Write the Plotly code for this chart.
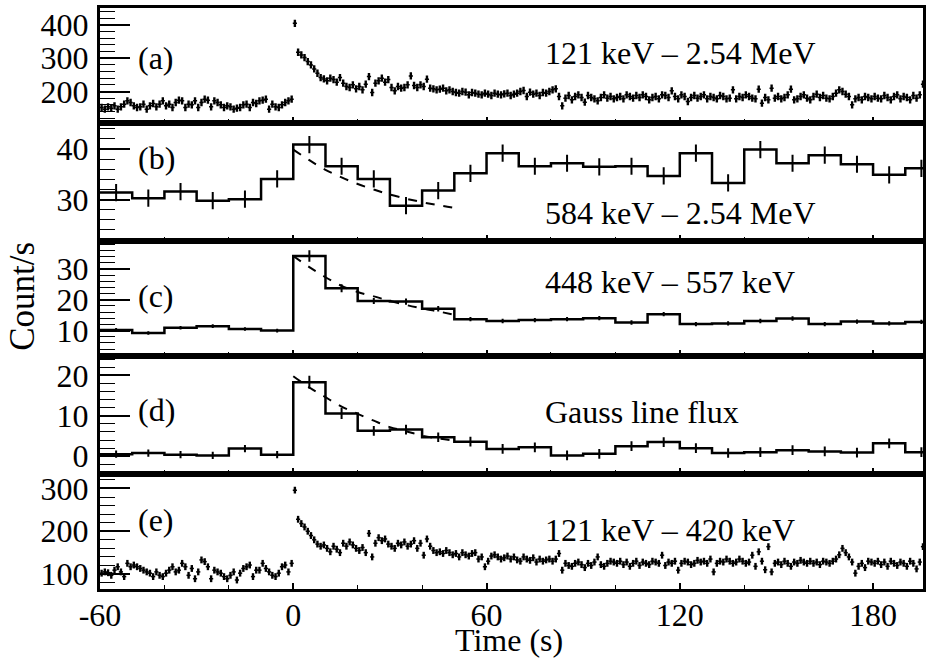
import numpy as np
import plotly.graph_objects as go
from plotly.subplots import make_subplots

# ---------------- data ----------------
# (a) 121 keV - 2.54 MeV, 1 s bins starting at t = -60
a_pre = [152, 147, 154, 150, 157, 147, 154, 162, 172, 167,
         157, 152, 154, 162, 147, 157, 164, 154, 162, 172,
         157, 162, 152, 167, 174, 172, 152, 162, 160, 172,
         152, 167, 177, 174, 154, 172, 167, 160, 152, 157,
         154, 147, 150, 152, 160, 162, 152, 167, 164, 172,
         174, 177, 147, 162, 154, 152, 160, 167, 172, 177]
a_post = [405, 318, 310, 302, 290, 280, 268, 255, 242, 238,
          232, 240, 236, 228, 242, 225, 215, 212, 220, 208,
          215, 205, 222, 245, 197, 225, 232, 240, 228, 236,
          212, 202, 215, 210, 212, 220, 247, 218, 212, 220,
          215, 237, 210, 208, 205, 207, 210, 202, 205, 200,
          197, 195, 200, 198, 190, 197, 195, 192, 190, 195,
          192, 188, 195, 192, 190, 193, 195, 188, 192, 195,
          200, 203, 185, 198, 192, 195, 188, 197, 195, 200,
          205, 208, 185, 157, 180, 188, 175, 185, 190, 182,
          168, 188, 182, 178, 172, 182, 190, 180, 185, 178,
          182, 185, 178, 190, 185, 180, 188, 182, 190, 185,
          175, 182, 185, 178, 190, 188, 182, 202, 185, 178,
          190, 185, 170, 182, 188, 180, 185, 190, 178, 185,
          182, 178, 188, 185, 178, 180, 205, 178, 185, 182,
          190, 185, 180, 178, 207, 165, 182, 175, 210, 180,
          185, 178, 182, 190, 207, 175, 178, 185, 190, 180,
          175, 185, 192, 182, 188, 180, 178, 185, 195, 205,
          200, 192, 185, 160, 178, 182, 175, 185, 182, 178,
          185, 180, 178, 188, 182, 175, 185, 190, 178, 185,
          182, 175, 188, 180, 190, 222]
a_err = 11.0

# (e) 121 keV - 420 keV, 1 s bins starting at t = -60
e_pre = [102, 105, 103, 97, 109, 117, 105, 94, 125, 117,
         121, 117, 113, 109, 105, 102, 94, 105, 97, 94,
         102, 109, 117, 105, 109, 125, 117, 97, 113, 89,
         105, 133, 129, 117, 89, 109, 105, 102, 94, 89,
         97, 105, 86, 102, 113, 117, 121, 94, 109, 109,
         125, 113, 105, 97, 94, 102, 117, 121, 105, 125]
e_post = [296, 228, 218, 210, 200, 190, 180, 170, 165, 168,
          160, 152, 165, 158, 150, 172, 165, 175, 168, 160,
          155, 162, 150, 195, 140, 172, 185, 178, 182, 170,
          165, 160, 172, 168, 175, 165, 170, 178, 160, 172,
          144, 182, 165, 155, 150, 152, 148, 155, 150, 145,
          148, 140, 150, 145, 142, 148, 150, 135, 140, 117,
          130, 142, 145, 140, 135, 138, 142, 135, 140, 133,
          130, 140, 135, 132, 138, 128, 135, 130, 133, 135,
          130, 135, 148, 109, 125, 120, 118, 125, 128, 122,
          115, 125, 120, 128, 140, 122, 118, 125, 130, 128,
          125, 130, 122, 128, 118, 125, 130, 120, 128, 125,
          122, 130, 128, 125, 144, 120, 128, 125, 130, 109,
          125, 130, 128, 122, 125, 132, 128, 130, 125, 135,
          105, 125, 130, 128, 135, 130, 125, 128, 135, 130,
          125, 128, 144, 118, 152, 130, 110, 164, 105, 125,
          128, 122, 130, 125, 118, 128, 125, 132, 128, 125,
          130, 125, 128, 122, 130, 128, 125, 130, 135, 145,
          160, 150, 140, 128, 102, 118, 125, 115, 130, 128,
          125, 130, 122, 128, 118, 130, 125, 120, 128, 125,
          118, 130, 125, 112, 128, 164]
e_err = 8.0

# (b), (c), (d): 10 s bins from -60 to 200
bin_edges = list(range(-60, 201, 10))
b_vals = [31.4, 30.3, 31.6, 29.8, 30.1, 34.1, 40.9, 36.6, 34.1, 28.8, 31.8, 35.2, 39.2,
          36.6, 37.2, 36.5, 36.6, 34.7, 39.2, 33.3, 39.9, 37.2, 38.8, 37.0, 34.9, 36.2]
b_err = [1.7] * 26
c_vals = [10.2, 9.2, 10.9, 11.4, 10.5, 10.0, 34.2, 23.7, 19.6, 19.4, 17.1, 13.7, 13.1,
          13.4, 13.7, 14.0, 12.6, 15.3, 12.1, 12.3, 13.1, 13.9, 12.1, 12.9, 12.3, 12.8]
c_err = [0.6, 0.6, 0.6, 0.6, 0.6, 0.6, 1.9, 1.3, 1.0, 1.0, 0.9, 0.7, 0.7,
         0.7, 0.7, 0.7, 0.7, 0.7, 0.7, 0.7, 0.7, 0.7, 0.7, 0.7, 0.7, 0.7]
d_vals = [0.5, 0.8, 0.4, 0.2, 1.9, 0.4, 18.3, 10.6, 6.3, 6.6, 4.7, 3.6, 1.8,
          2.2, 0.2, 0.6, 2.5, 3.5, 2.0, 0.8, 1.0, 1.5, 1.2, 0.9, 3.2, 1.0]
d_err = [0.9, 0.9, 0.9, 0.9, 0.9, 0.9, 1.6, 1.4, 1.2, 1.2, 1.2, 1.2, 1.2,
         1.2, 1.2, 1.2, 1.2, 1.2, 1.2, 1.2, 1.2, 1.2, 1.2, 1.2, 1.2, 1.2]

# dashed fitted decay curves, read at 5 s steps from 0 to 50 s
fit_t = [0, 5, 10, 15, 20, 25, 30, 35, 40, 45, 50]
b_fit = [39.9, 37.8, 35.9, 34.4, 33.1, 32.0, 31.0, 30.2, 29.5, 28.9, 28.4]
c_fit = [34.2, 30.6, 27.3, 24.5, 22.5, 21.1, 19.6, 18.3, 17.2, 16.2, 15.1]
d_fit = [19.8, 17.0, 14.6, 12.3, 10.5, 8.8, 7.2, 6.2, 5.1, 4.4, 3.9]

panel_tags = ["(a)", "(b)", "(c)", "(d)", "(e)"]
panel_labels = ["121 keV – 2.54 MeV", "584 keV – 2.54 MeV", "448 keV – 557 keV",
                "Gauss line flux", "121 keV – 420 keV"]
y_ticks = [[200, 300, 400], [30, 40], [10, 20, 30], [0, 10, 20], [100, 200, 300]]
x_ticks = [-60, 0, 60, 120, 180]
x_ticktext = ["-60", "0", "60", "120", "180"]

# ---------------- figure ----------------
FONT = "Liberation Serif, 'Times New Roman', Times, 'DejaVu Serif', serif"
FS = 32
W, H = 931, 661
fig = make_subplots(rows=5, cols=1, shared_xaxes=True, vertical_spacing=0)

black = "black"


def points(row, pre, post, err):
    vals = pre + post
    t = np.arange(-60, -60 + len(vals)) + 0.5
    fig.add_trace(go.Scatter(
        x=t, y=vals, mode="markers",
        marker=dict(symbol="line-ew-open", size=3, line=dict(width=1.5, color=black), color=black),
        error_y=dict(type="constant", value=err, thickness=2.4, width=0, color=black),
        showlegend=False, hoverinfo="skip"), row=row, col=1)


def hist(row, vals, err, fit=None):
    xs = bin_edges
    ys = vals + [vals[-1]]
    fig.add_trace(go.Scatter(x=xs, y=ys, mode="lines", line=dict(shape="hv", width=2.5, color=black),
                             showlegend=False, hoverinfo="skip"), row=row, col=1)
    centers = [e + 5 for e in bin_edges[:-1]]
    fig.add_trace(go.Scatter(
        x=centers, y=vals, mode="markers", marker=dict(size=1, color=black),
        error_y=dict(type="data", array=err, thickness=2, width=0, color=black),
        showlegend=False, hoverinfo="skip"), row=row, col=1)
    if fit is not None:
        fig.add_trace(go.Scatter(x=fit_t, y=fit, mode="lines",
                                 line=dict(dash="dash", width=2, color=black, shape="spline"),
                                 showlegend=False, hoverinfo="skip"), row=row, col=1)


points(1, a_pre, a_post, a_err)
hist(2, b_vals, b_err, b_fit)
hist(3, c_vals, c_err, c_fit)
hist(4, d_vals, d_err, d_fit)
points(5, e_pre, e_post, e_err)

# layout geometry (pixels)
left, right, top, bottom = 100, 926, 7, 589
bounds = [7, 122, 240, 356, 474, 589]
yranges = [[106, 451], [21.9, 45.2], [1.6, 39.2], [-4.44, 24.7], [65, 333.4]]
minor_dt = [20, 2, 2, 2, 20]
ph = bottom - top

for i in range(5):
    n = "" if i == 0 else str(i + 1)
    d0 = (bottom - bounds[i + 1]) / ph
    d1 = (bottom - bounds[i]) / ph
    fig.layout["yaxis" + n].update(
        domain=[d0, d1], range=yranges[i],
        showline=True, linewidth=3, linecolor=black, mirror=True,
        tickmode="array", tickvals=y_ticks[i], ticktext=[str(v) for v in y_ticks[i]],
        ticks="inside", ticklen=30, tickwidth=1.5, tickcolor=black,
        minor=dict(tickmode="linear", dtick=minor_dt[i], tick0=0, ticks="inside",
                   ticklen=15, tickwidth=1.2, tickcolor=black, showgrid=False),
        showgrid=False, zeroline=False,
        tickfont=dict(family=FONT, size=FS, color=black), ticklabelstandoff=2)
    fig.layout["xaxis" + n].update(
        range=[-60, 195.5], showline=True, linewidth=3, linecolor=black, mirror=True,
        tickmode="array", tickvals=x_ticks, ticktext=x_ticktext,
        ticks="inside", ticklen=6, tickwidth=1.5, tickcolor=black,
        minor=dict(tickmode="linear", dtick=20, tick0=0, ticks="inside", ticklen=4,
                   tickwidth=1.2, tickcolor=black, showgrid=False),
        showgrid=False, zeroline=False,
        showticklabels=(i == 4), ticklabelstandoff=-4,
        tickfont=dict(family=FONT, size=FS, color=black))

annotations = []
tag_y = [57, 157, 295, 410, 520]
lab_y = [52, 212, 281, 412, 530]
for i in range(5):
    annotations.append(dict(xref="paper", yref="paper", x=(136 - left) / (right - left),
                            y=(bottom - tag_y[i]) / ph, text=panel_tags[i], showarrow=False,
                            xanchor="left", yanchor="middle",
                            font=dict(family=FONT, size=FS, color=black)))
    annotations.append(dict(xref="paper", yref="paper", x=(545 - left) / (right - left),
                            y=(bottom - lab_y[i]) / ph, text=panel_labels[i], showarrow=False,
                            xanchor="left", yanchor="middle",
                            font=dict(family=FONT, size=FS, color=black)))
annotations.append(dict(xref="paper", yref="paper", x=(510 - left) / (right - left),
                        y=(bottom - 640) / ph, text="Time (s)", showarrow=False,
                        xanchor="center", yanchor="middle",
                        font=dict(family=FONT, size=FS, color=black)))
annotations.append(dict(xref="paper", yref="paper", x=(22 - left) / (right - left),
                        y=(bottom - 296) / ph, text="Count/s", showarrow=False, textangle=-90,
                        xanchor="center", yanchor="middle",
                        font=dict(family=FONT, size=35, color=black)))

fig.update_layout(
    width=W, height=H, autosize=False,
    margin=dict(l=left, r=W - right, t=top, b=H - bottom, pad=0),
    paper_bgcolor="white", plot_bgcolor="white",
    annotations=annotations, showlegend=False)

fig.write_html("out.html")
